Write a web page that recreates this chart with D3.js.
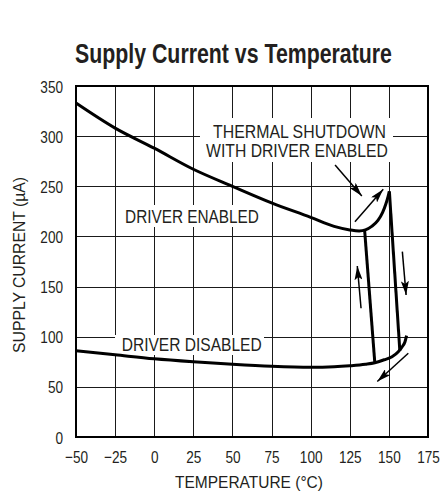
<!DOCTYPE html>
<html><head><meta charset="utf-8">
<script src="https://cdn.jsdelivr.net/npm/d3@7/dist/d3.min.js"></script>
<style>body{margin:0;background:#fff}svg{display:block}</style>
</head><body><svg id="c" width="445" height="493"></svg>
<script>
// ---- data ----
const xTicks = [-50, -25, 0, 25, 50, 75, 100, 125, 150, 175];
const yTicks = [0, 50, 100, 150, 200, 250, 300, 350];
const enabledTemp    = [-50, -25, 0, 25, 50, 75, 100, 115, 125, 131, 135, 139, 143, 146, 148, 149.5, 150.3];
const enabledCurrent = [333, 308, 288, 267, 250, 233.5, 219, 210, 206.5, 205.5, 206.5, 210, 216, 224, 232, 240, 245];
const disabledTemp    = [-50, -25, 0, 25, 50, 75, 100, 115, 125, 135, 141, 147, 152, 156, 158.5, 160.3, 161.3];
const disabledCurrent = [86, 82, 78, 75, 72.5, 70.5, 69.5, 70, 71, 72.5, 74, 77, 80, 85, 90, 95, 101];
const shutdownTemp = [134.5, 141];
const shutdownCurrent = [206, 74];
const recoveryTemp = [150.3, 157];
const recoveryCurrent = [245, 86];
const arrowFromTemp    = [115.6, 128.3, 132.2, 158.6, 162.4];
const arrowFromCurrent = [271.2, 214.7, 128.4, 184.8, 83.5];
const arrowToTemp      = [132.7, 146.4, 129.8, 161.0, 142.6];
const arrowToCurrent   = [240.4, 247.0, 170.5, 141.6, 55.3];
const titleText = "Supply Current vs Temperature";
const xTitle = "TEMPERATURE (°C)";
const yTitle = "SUPPLY CURRENT (µA)";
const noteLines = ["THERMAL SHUTDOWN", "WITH DRIVER ENABLED"];
const enabledLabel = "DRIVER ENABLED";
const disabledLabel = "DRIVER DISABLED";

// ---- layout ----
const W = 445, H = 493;
const m = {left: 76, right: 17, top: 86, bottom: 56};
const FONT = "'Liberation Sans', Arial, sans-serif";
const INK = "#231f20";
const svg = d3.select("#c");
const x = d3.scaleLinear().domain([-50, 175]).range([m.left, W - m.right]);
const y = d3.scaleLinear().domain([0, 350]).range([H - m.bottom, m.top]);
const fmt = d => d < 0 ? "\u2212" + Math.abs(d) : String(d);

// text squeezed horizontally to a target width (narrow-font look)
function textFit(parent, str, cx, by, w, size, opts = {}) {
  const t = parent.append("text").attr("x", 0).attr("y", 0)
    .attr("text-anchor", opts.anchor || "middle")
    .attr("font-family", FONT).attr("font-size", size)
    .attr("font-weight", opts.bold ? "bold" : null)
    .attr("fill", INK).text(str);
  const k = w / t.node().getComputedTextLength();
  t.attr("transform", `translate(${cx},${by})${opts.rotate ? " rotate(" + opts.rotate + ")" : ""} scale(${k},1)`);
  return t;
}

// title
textFit(svg, titleText, 233.5, 63, 317, 28, {bold: true});

// grid
const grid = svg.append("g").attr("stroke", "#1a1a1a").attr("stroke-width", 1);
grid.selectAll("line.v").data(xTicks.slice(1, -1)).join("line")
  .attr("x1", d => Math.round(x(d)) + 0.5).attr("x2", d => Math.round(x(d)) + 0.5)
  .attr("y1", y(0)).attr("y2", y(350));
grid.selectAll("line.h").data(yTicks.slice(1, -1)).join("line")
  .attr("y1", d => Math.round(y(d)) + 0.5).attr("y2", d => Math.round(y(d)) + 0.5)
  .attr("x1", x(-50)).attr("x2", x(175));

// axes with tick labels
const xAxis = d3.axisBottom(x).tickValues(xTicks).tickSize(0).tickPadding(0).tickFormat(fmt);
const gx = svg.append("g").attr("transform", `translate(0,${y(0)})`).call(xAxis);
gx.select(".domain").remove();
gx.selectAll("text").attr("dy", null).attr("y", 0).attr("font-family", FONT).attr("font-size", 17).attr("fill", INK)
  .attr("transform", "translate(0,25.5) scale(0.8,1)");
const yAxis = d3.axisLeft(y).tickValues(yTicks).tickSize(0).tickPadding(0).tickFormat(fmt);
const gy = svg.append("g").attr("transform", `translate(${m.left - 13},0)`).call(yAxis);
gy.select(".domain").remove();
gy.selectAll("text").attr("dy", null).attr("y", 0).attr("x", 0).attr("font-family", FONT).attr("font-size", 17).attr("fill", INK)
  .attr("transform", "translate(0,6) scale(0.8,1)");

// axis titles
textFit(svg, xTitle, 249, 488, 148, 17);
textFit(svg, yTitle, 25, 265, 176, 17, {rotate: -90});

// label boxes (break gridlines)
function box(x0, y0, x1, y1) {
  svg.append("rect").attr("x", x0).attr("y", y0).attr("width", x1 - x0).attr("height", y1 - y0).attr("fill", "#fff");
}
box(200, 118, 393, 162);
box(120, 205, 264, 227);
box(115, 335, 264, 355);

textFit(svg, noteLines[0], 299.5, 137.5, 173, 18);
textFit(svg, noteLines[1], 297, 157, 182, 18);
textFit(svg, enabledLabel, 192, 222.5, 134, 18);
textFit(svg, disabledLabel, 191.7, 350.5, 140, 18);

// frame
svg.append("rect").attr("x", x(-50)).attr("y", y(350)).attr("width", x(175) - x(-50)).attr("height", y(0) - y(350))
  .attr("fill", "none").attr("stroke", "#000").attr("stroke-width", 2);

// curves
const line = d3.line().x(d => x(d[0])).y(d => y(d[1]));
const smooth = d3.line().x(d => x(d[0])).y(d => y(d[1])).curve(d3.curveMonotoneX);
const curves = svg.append("g").attr("fill", "none").attr("stroke", "#000").attr("stroke-width", 3)
  .attr("stroke-linejoin", "round").attr("stroke-linecap", "butt");
curves.append("path").attr("d", smooth(enabledTemp.map((t, i) => [t, enabledCurrent[i]])));
curves.append("path").attr("d", smooth(disabledTemp.map((t, i) => [t, disabledCurrent[i]])));
curves.append("path").attr("d", line(shutdownTemp.map((t, i) => [t, shutdownCurrent[i]])));
curves.append("path").attr("d", line(recoveryTemp.map((t, i) => [t, recoveryCurrent[i]])));

// arrows
svg.append("defs").append("marker").attr("id", "ah").attr("viewBox", "0 0 14 8")
  .attr("refX", 14).attr("refY", 4).attr("markerWidth", 14).attr("markerHeight", 8)
  .attr("markerUnits", "userSpaceOnUse").attr("orient", "auto")
  .append("path").attr("d", "M0,0 L14,4 L0,8 L3,4 Z").attr("fill", "#000");
svg.append("g").selectAll("line").data(arrowFromTemp.map((t, i) => i)).join("line")
  .attr("x1", i => x(arrowFromTemp[i])).attr("y1", i => y(arrowFromCurrent[i]))
  .attr("x2", i => x(arrowToTemp[i])).attr("y2", i => y(arrowToCurrent[i]))
  .attr("stroke", "#000").attr("stroke-width", 1.5).attr("marker-end", "url(#ah)");
</script></body></html>
